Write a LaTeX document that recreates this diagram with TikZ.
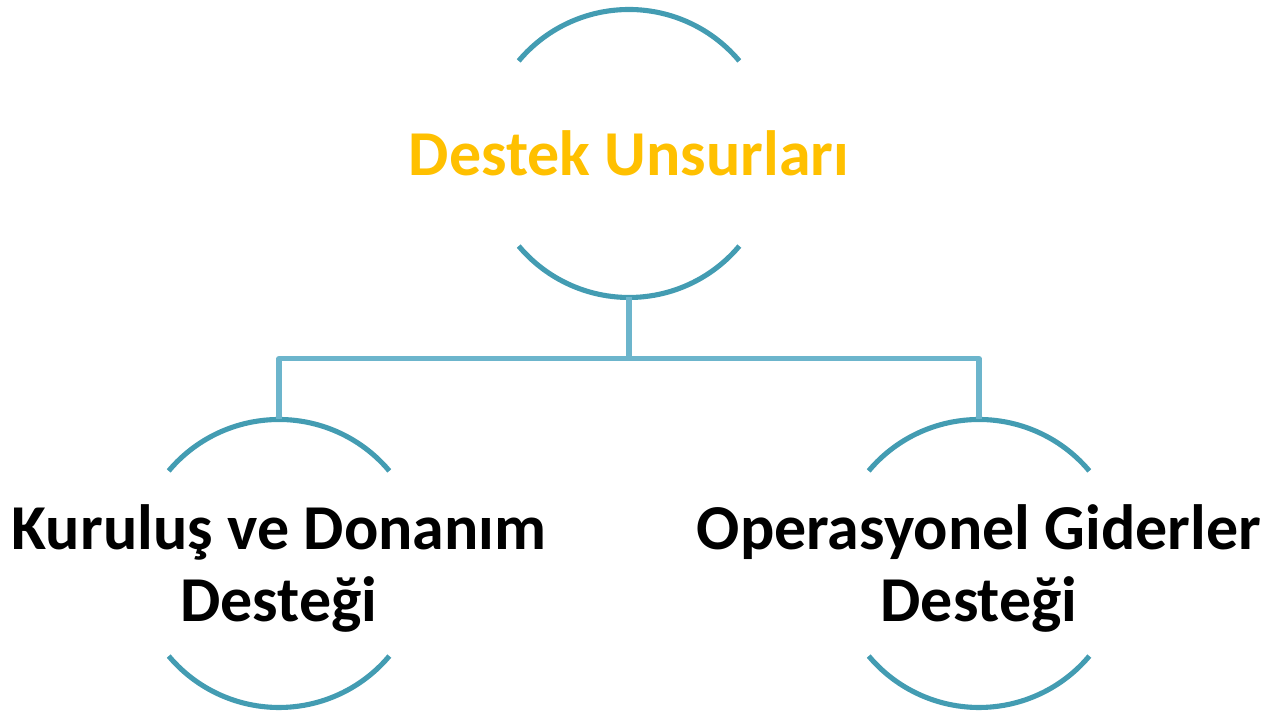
\documentclass[tikz,border=0pt]{standalone}
\usepackage{fontspec}
\setmainfont{Carlito}
\definecolor{ringteal}{HTML}{439CB2}
\definecolor{linkblue}{HTML}{6CB5CC}
\definecolor{titlegold}{HTML}{FFC000}
\begin{document}
\begin{tikzpicture}[line join=round, line cap=butt,
	ring/.style={circle, minimum size=2.88cm, inner sep=0pt, outer sep=0pt},
	arcline/.style={ringteal, line width=1.45pt},
	link/.style={linkblue, line width=1.45pt},
	toplabel/.style={text=titlegold, font=\bfseries\fontsize{18.2}{21}\selectfont, align=center},
	sublabel/.style={text=black, font=\bfseries\fontsize{18.2}{20.3}\selectfont, align=center, yshift=-0.05cm}]
	\useasboundingbox (0,0) rectangle (12.67,7.11);
	\def\rr{1.44}
	%Cember dugumleri
	\node[ring] (top) at (6.29,5.575) {};
	\node[ring] (left) at (2.79,1.475) {};
	\node[ring] (right) at (9.79,1.475) {};
	\foreach \n in {top,left,right}{
		\draw[arcline] (\n.40) arc[start angle=40, end angle=140, radius=\rr];
		\draw[arcline] (\n.220) arc[start angle=220, end angle=320, radius=\rr];
	}
	%Yazilar
	\node[toplabel] (toptxt) at (top) {Destek Unsurları};
	\node[sublabel] (lefttxt) at (left) {Kuruluş ve Donanım\\Desteği};
	\node[sublabel] (righttxt) at (right) {Operasyonel Giderler\\Desteği};
	%Baglantilar
	\draw[link] (top.south) -- ++(0,-0.61) coordinate (hub);
	\draw[link] (left.north) |- (hub) -| (right.north);
\end{tikzpicture}
\end{document}
